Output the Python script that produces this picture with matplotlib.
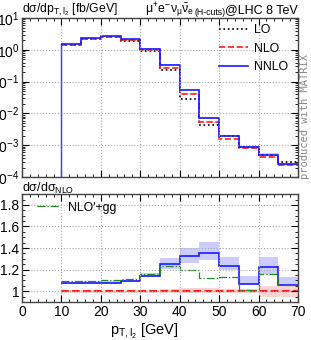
import numpy as np
import matplotlib.pyplot as plt
from matplotlib import font_manager
from matplotlib.ticker import MultipleLocator, LogLocator, NullFormatter

# bin edges in pT,l2 [GeV]
edges = [10, 15, 20, 25, 30, 35, 40, 45, 50, 55, 60, 65, 70]

# upper panel: dsigma/dpT [fb/GeV]
lo = [1.38, 2.15, 2.56, 1.92, 0.91, 0.235, 0.028, 0.0044, 0.0019, 8.9e-4, 5.0e-4, 2.95e-4]
nlo = [1.41, 2.20, 2.59, 1.99, 0.96, 0.27, 0.042, 0.0053, 0.0016, 8.4e-4, 4.2e-4, 2.4e-4]
nnlo = [1.51, 2.38, 2.80, 2.17, 1.10, 0.34, 0.055, 0.0071, 0.0020, 8.9e-4, 5.1e-4, 2.6e-4]

# lower panel: ratio to NLO
r_nnlo = [1.074, 1.08, 1.08, 1.093, 1.143, 1.255, 1.326, 1.357, 1.233, 1.062, 1.227, 1.06]
r_nnlo_lo = [1.065, 1.07, 1.07, 1.083, 1.13, 1.21, 1.264, 1.29, 1.195, 1.07, 1.155, 1.046]
r_nnlo_hi = [1.085, 1.09, 1.09, 1.103, 1.167, 1.31, 1.404, 1.456, 1.316, 1.14, 1.32, 1.13]
r_nlo_lo = [0.985, 0.985, 0.985, 0.985, 0.985, 0.985, 0.98, 0.98, 0.98, 0.98, 0.95, 0.95]
r_nlo_hi = [1.015, 1.015, 1.015, 1.015, 1.015, 1.02, 1.03, 1.03, 1.02, 1.02, 1.047, 1.047]
r_gg = [1.097, 1.097, 1.106, 1.115, 1.162, 1.23, 1.195, 1.125, 1.134, 1.01, 1.155, 1.053]

nlo_arr = np.array(nlo)
ones = np.ones(len(nlo))

names = {f.name for f in font_manager.fontManager.ttflist}
sans = 'Liberation Sans Narrow' if 'Liberation Sans Narrow' in names else 'Liberation Sans'

plt.rcParams['font.family'] = [sans, 'DejaVu Sans']
plt.rcParams['font.size'] = 9
plt.rcParams['mathtext.fontset'] = 'custom'
plt.rcParams['mathtext.rm'] = sans
plt.rcParams['mathtext.it'] = sans
plt.rcParams['mathtext.bf'] = sans + ':bold'

fig = plt.figure(figsize=(3.11, 3.40), dpi=100)
ax1 = fig.add_axes([0.0707, 0.479, 0.8873, 0.468])
ax2 = fig.add_axes([0.0707, 0.112, 0.8873, 0.317])

blue, red = '#1a1aff', '#ff1a1a'

# --- upper panel
ax1.stairs(nlo_arr * np.array(r_nnlo_hi), edges, baseline=nlo_arr * np.array(r_nnlo_lo),
           fill=True, color=blue, alpha=0.2, lw=0)
ax1.stairs(nlo_arr * np.array(r_nlo_hi), edges, baseline=nlo_arr * np.array(r_nlo_lo),
           fill=True, color=red, alpha=0.2, lw=0)
ax1.stairs(lo, edges, baseline=None, color='black', ls=':', lw=1.2, label='LO')
ax1.stairs(nlo, edges, baseline=None, color=red, ls='--', lw=1.2, label='NLO')
ax1.stairs(nnlo, edges, baseline=None, color=blue, ls='-', lw=1.2, label='NNLO')
ax1.plot([edges[0], edges[0]], [1e-4, nnlo[0]], color=blue, lw=1.0)
ax1.plot([edges[0], edges[0]], [1e-4, nlo[0]], color=red, lw=0.6)

ax1.set_yscale('log')
ax1.set_ylim(1e-4, 10)
ax1.set_xlim(0, 70)
ax1.yaxis.set_major_locator(LogLocator(base=10, numticks=10))
ax1.yaxis.set_minor_locator(LogLocator(base=10, subs=np.arange(2, 10), numticks=20))
ax1.yaxis.set_minor_formatter(NullFormatter())
ax1.set_xticklabels([])
ax1.legend(loc='upper right', frameon=False, handlelength=2.4, fontsize=8.8,
           borderaxespad=0.4, labelspacing=0.55, handletextpad=0.5,
           bbox_to_anchor=(1.0, 1.025))

# --- lower panel
ax2.stairs(r_nlo_hi, edges, baseline=r_nlo_lo, fill=True, color=red, alpha=0.18, lw=0)
ax2.stairs(r_nnlo_hi, edges, baseline=r_nnlo_lo, fill=True, color=blue, alpha=0.22, lw=0)
ax2.stairs(ones, edges, baseline=None, color=red, ls='--', lw=1.5)
ax2.stairs(r_nnlo, edges, baseline=None, color=blue, lw=1.2)
ax2.stairs(r_gg, edges, baseline=None, color='#228b22', ls='-.', lw=0.9, label="NLO'+gg")
ax2.set_xlim(0, 70)
ax2.set_ylim(0.9, 1.9)
ax2.yaxis.set_minor_locator(MultipleLocator(0.05))
ax2.set_yticks([1.0, 1.2, 1.4, 1.6, 1.8])
ax2.set_yticklabels(['1', '1.2', '1.4', '1.6', '1.8'])
ax2.legend(loc='upper left', frameon=False, handlelength=1.7, fontsize=8.8,
           borderaxespad=0.4, handletextpad=0.8, bbox_to_anchor=(0.02, 1.02))

for ax in (ax1, ax2):
    ax.xaxis.set_major_locator(MultipleLocator(10))
    ax.xaxis.set_minor_locator(MultipleLocator(2))
    ax.tick_params(which='both', direction='in', top=True, right=True, labelsize=10, pad=2)
    ax.tick_params(which='major', length=5, width=0.8)
    ax.tick_params(which='minor', length=2.5, width=0.6)
    ax.grid(True, which='major', ls=':', color='#aaaaaa', lw=0.8)
    for s in ax.spines.values():
        s.set_linewidth(1.0)
        s.set_color('#444444')

# titles
fig.text(0.0707, 0.962, r'd$\sigma$/dp$_{\mathregular{T,l_2}}$ [fb/GeV]', fontsize=8.8,
         va='baseline')

# right title built piece by piece from the right edge
fig.canvas.draw()
rend = fig.canvas.get_renderer()
yb = 0.962
t3 = fig.text(0.958, yb, '@LHC 8 TeV', fontsize=9, ha='right', va='baseline')
x0 = t3.get_window_extent(rend).x0 / fig.bbox.width
t2 = fig.text(x0, yb - 0.006, '(H-cuts)', fontsize=6.3, ha='right', va='baseline')
x0 = t2.get_window_extent(rend).x0 / fig.bbox.width
fig.text(x0, yb, r'$\mu^{+}$e$^{-}\nu_{\mu}\bar{\nu}_{e}$', fontsize=8.8, ha='right',
         va='baseline')

fig.text(0.0707, 0.437, r'd$\sigma$/d$\sigma_{\mathregular{NLO}}$', fontsize=9)
fig.text(0.354, 0.015, r'p$_{\mathregular{T,l_2}}$ [GeV]', fontsize=10.5)
fig.text(0.98, 0.658, 'produced with MATRIX', rotation=90, family='DejaVu Sans Mono',
         fontsize=7.5, color='#888888', ha='center', va='center')

fig.savefig('out.png', dpi=100)
